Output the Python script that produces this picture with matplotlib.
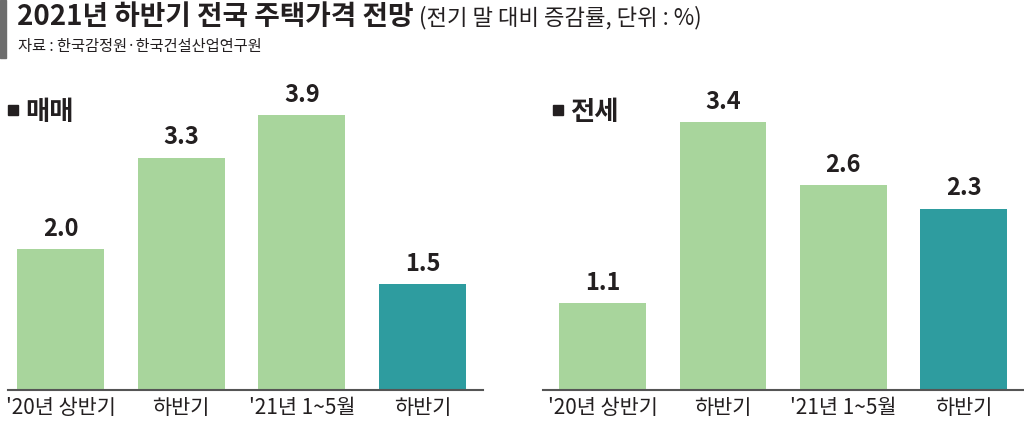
import matplotlib
matplotlib.use('Agg')
import matplotlib.pyplot as plt
from matplotlib.patches import Rectangle

plt.rcParams['font.family'] = ['Noto Sans CJK KR', 'DejaVu Sans']

categories = ["'20년 상반기", '하반기', "'21년 1~5월", '하반기']
sale_values = [2.0, 3.3, 3.9, 1.5]
jeonse_values = [1.1, 3.4, 2.6, 2.3]

LIGHT = '#a8d59c'
TEAL = '#2e9c9f'
colors = [LIGHT, LIGHT, LIGHT, TEAL]

W, H = 1024, 423
fig = plt.figure(figsize=(W / 100, H / 100), dpi=100)


def px_axes(x0, x1, y_top, y_base):
    return fig.add_axes([x0 / W, (H - y_base) / H, (x1 - x0) / W, (y_base - y_top) / H])


def draw_panel(ax, values, ymax, xlim):
    x = range(len(values))
    ax.bar(x, values, width=0.72, color=colors, zorder=2)
    for xi, v in zip(x, values):
        ax.annotate(f'{v:.1f}', (xi, v), xytext=(0, 6), textcoords='offset points',
                    ha='center', va='bottom', fontsize=17, fontweight='bold', color='#231f20')
    ax.set_xlim(*xlim)
    ax.set_ylim(0, ymax)
    ax.set_yticks([])
    ax.set_xticks(list(x))
    ax.set_xticklabels(categories, fontsize=15, color='#231f20')
    ax.tick_params(axis='x', length=0, pad=5)
    for s in ['top', 'right', 'left']:
        ax.spines[s].set_visible(False)
    ax.spines['bottom'].set_color('#555555')
    ax.spines['bottom'].set_linewidth(1.5)


def panel_label(x_px, text):
    fig.patches.append(Rectangle((x_px / W, 1 - 115 / H), 10 / W, 10 / H,
                                 transform=fig.transFigure, color='#231f20'))
    fig.text((x_px + 17) / W, 1 - 112 / H, text, fontsize=19, fontweight='bold',
             color='#231f20', ha='left', va='center')


ax1 = px_axes(8, 483, 60, 390)
draw_panel(ax1, sale_values, 330 / 70.4, (-0.435, 3.5))
panel_label(8, '매매')

ax2 = px_axes(543, 1024, 60, 390)
draw_panel(ax2, jeonse_values, 330 / 78.8, (-0.495, 3.5))
panel_label(553, '전세')

# title block
fig.patches.append(Rectangle((0, 1 - 58 / H), 6 / W, 58 / H, transform=fig.transFigure,
                             color='#6d6d6d', zorder=0))
fig.text(17 / W, 1 - 17 / H, '2021년 하반기 전국 주택가격 전망', fontsize=20,
         fontweight='bold', color='#231f20', ha='left', va='center')
fig.text(419 / W, 1 - 18 / H, '(전기 말 대비 증감률, 단위 : %)', fontsize=16,
         color='#231f20', ha='left', va='center')
fig.text(18 / W, 1 - 46 / H, '자료 : 한국감정원·한국건설산업연구원', fontsize=11,
         color='#231f20', ha='left', va='center')

fig.savefig('out.png', dpi=100)
